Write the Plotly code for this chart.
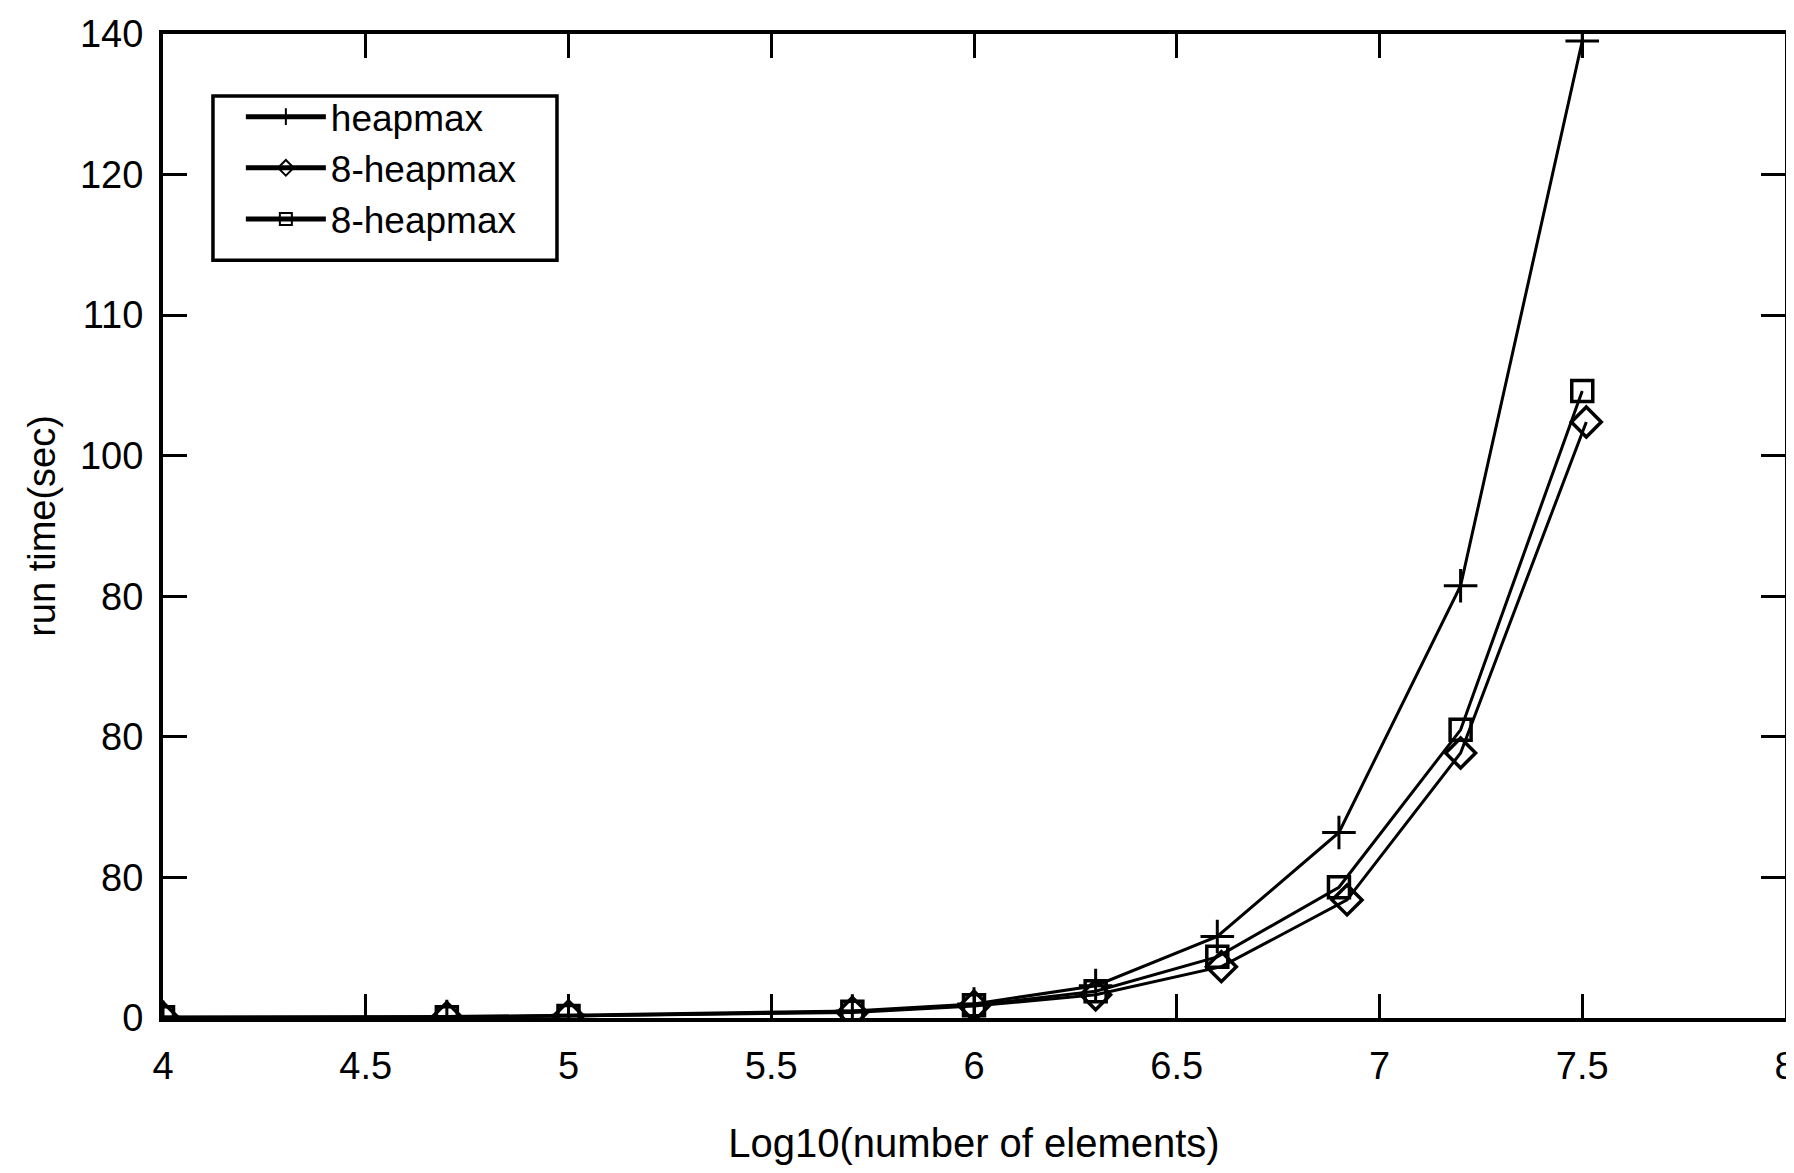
import plotly.graph_objects as go

# Data
x_vals = [4.0, 4.7, 5.0, 5.7, 6.0, 6.3, 6.6, 6.9, 7.2, 7.5]
x_diamond = [4.0, 4.7, 5.0, 5.7, 6.0, 6.3, 6.61, 6.92, 7.2, 7.51]
heapmax = [0.1, 0.2, 0.4, 1.0, 2.0, 4.6, 11.6, 26.4, 61.5, 139.0]
heap8_diamond = [0.1, 0.1, 0.3, 0.8, 1.7, 3.3, 7.3, 16.8, 37.7, 84.8]
heap8_square = [0.1, 0.1, 0.3, 0.9, 1.8, 3.8, 8.7, 18.6, 41.0, 89.2]

series_names = ["heapmax", "8-heapmax", "8-heapmax"]

x_tickvals = [4, 4.5, 5, 5.5, 6, 6.5, 7, 7.5, 8]
x_ticktext = ["4", "4.5", "5", "5.5", "6", "6.5", "7", "7.5", "8"]
y_tickvals = [0, 20, 40, 60, 80, 100, 120, 140]
y_ticktext = ["0", "80", "80", "80", "100", "110", "120", "140"]

FONT = "Liberation Sans, Arial, sans-serif"

fig = go.Figure()
fig.add_trace(go.Scatter(
    x=x_vals, y=heapmax, name=series_names[0], mode="lines+markers",
    line=dict(color="black", width=3),
    marker=dict(symbol="cross-thin-open", size=24, color="black",
                line=dict(color="black", width=3)),
))
fig.add_trace(go.Scatter(
    x=x_diamond, y=heap8_diamond, name=series_names[1], mode="lines+markers",
    line=dict(color="black", width=3),
    marker=dict(symbol="diamond-open", size=23, color="black",
                line=dict(color="black", width=3.5)),
))
fig.add_trace(go.Scatter(
    x=x_vals, y=heap8_square, name=series_names[2], mode="lines+markers",
    line=dict(color="black", width=3),
    marker=dict(symbol="square-open", size=21, color="black",
                line=dict(color="black", width=3.5)),
))

fig.update_layout(
    width=1786, height=1165,
    margin=dict(l=155, r=9, t=26, b=155),
    paper_bgcolor="white", plot_bgcolor="white",
    font=dict(family=FONT, size=38, color="black"),
    showlegend=True,
    legend=dict(
        x=0.048, y=0.947, xanchor="left", yanchor="top",
        bgcolor="rgba(0,0,0,0)", borderwidth=0,
        font=dict(family=FONT, size=37, color="black"),
        tracegroupgap=0, itemsizing="constant", itemwidth=80,
    ),
    shapes=[dict(
        type="rect", xref="paper", yref="paper",
        x0=0.0308, x1=0.2429, y0=0.770, y1=0.937,
        line=dict(color="black", width=3.5), fillcolor="white", layer="above",
    )],
)

fig.update_xaxes(
    range=[4, 8], tickvals=x_tickvals, ticktext=x_ticktext,
    showgrid=False, zeroline=False, automargin=False,
    ticklabeloverflow="allow",
    showline=True, linecolor="black", linewidth=4, mirror="allticks",
    ticks="inside", ticklen=24, tickwidth=3, tickcolor="black",
    tickfont=dict(family=FONT, size=38, color="black"),
    ticklabelstandoff=11,
    title=dict(text="Log10(number of elements)", standoff=44,
               font=dict(family=FONT, size=40, color="black")),
)
fig.update_yaxes(
    range=[0, 140], tickvals=y_tickvals, ticktext=y_ticktext,
    showgrid=False, zeroline=False, automargin=False,
    ticklabeloverflow="allow",
    showline=True, linecolor="black", linewidth=4, mirror="allticks",
    ticks="inside", ticklen=24, tickwidth=3, tickcolor="black",
    tickfont=dict(family=FONT, size=38, color="black"),
    ticklabelstandoff=8,
    title=dict(text="run time(sec)", standoff=14,
               font=dict(family=FONT, size=38, color="black")),
)

fig.write_html("out.html")
